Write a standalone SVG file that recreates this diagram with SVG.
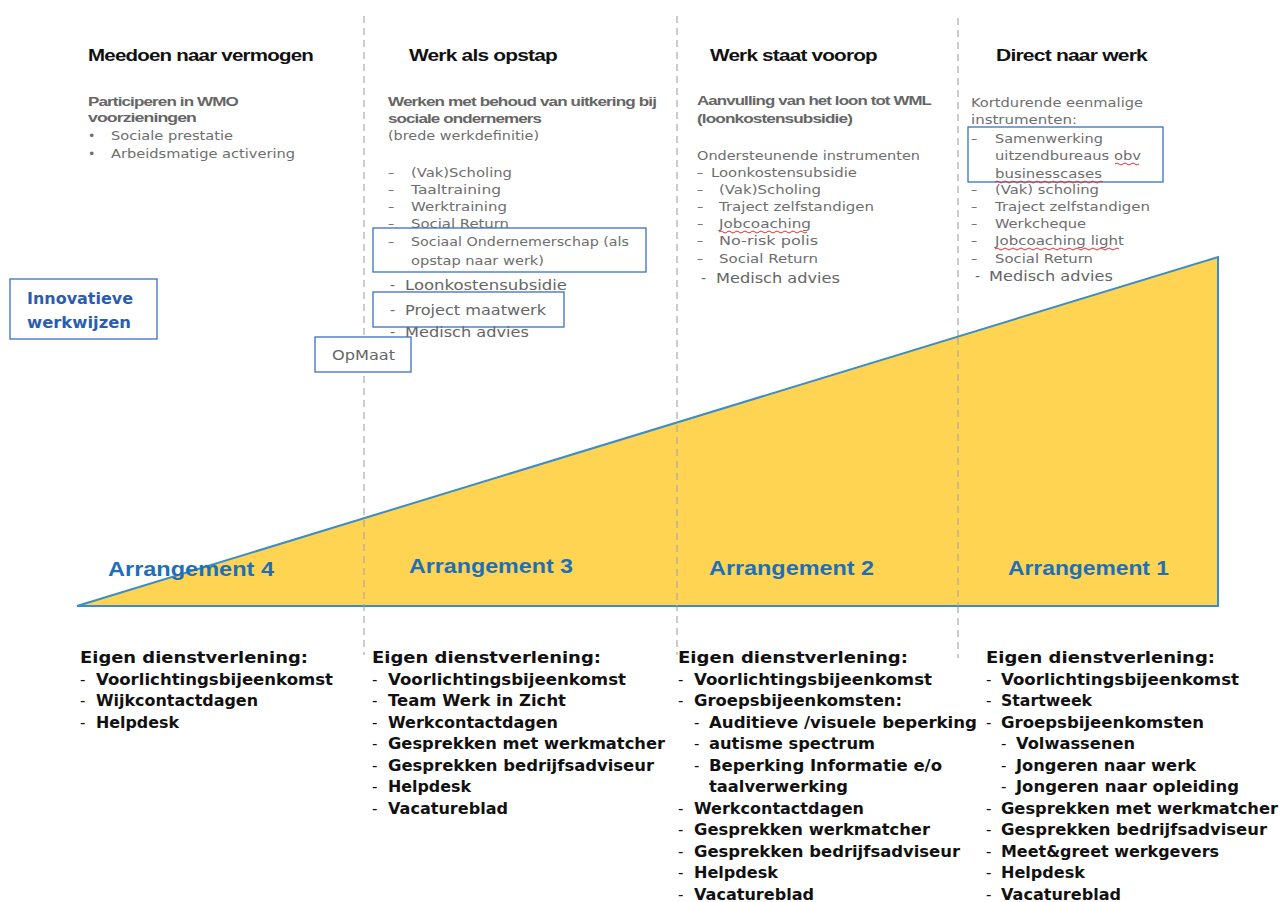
<svg xmlns="http://www.w3.org/2000/svg" width="1281" height="902" viewBox="0 0 1281 902">
<style>
.hd{font-family:"Liberation Sans",Arial,sans-serif;font-weight:bold;font-size:16px;fill:#111;letter-spacing:-0.6px}
.sb{font-family:"Liberation Sans",Arial,sans-serif;font-weight:bold;font-size:13.5px;fill:#666;letter-spacing:-0.7px}
.gt{font-family:"DejaVu Sans",Verdana,sans-serif;font-size:12.5px;fill:#6e6e6e}
.gm{font-family:"DejaVu Sans",Verdana,sans-serif;font-size:14px;fill:#666}
.ar{font-family:"Liberation Sans",Arial,sans-serif;font-weight:bold;font-size:20px;fill:#1f6fb8}
.bt{font-family:"DejaVu Sans",Verdana,sans-serif;font-weight:bold;font-size:15px;fill:#111}
.dh{font-weight:normal}
.bx{fill:none;stroke:#3a6fc4;stroke-width:1.3}
.dl{stroke:#aaa;stroke-width:1.2;stroke-dasharray:7,5;fill:none}
.wv{fill:none;stroke:#e03030;stroke-width:1}
.bl{font-family:"DejaVu Sans",Verdana,sans-serif;font-size:16px;fill:#2a5db0;font-weight:bold}
</style>
<rect width="1281" height="902" fill="#fff"/>
<g id="dividers">
<line class="dl" x1="364" y1="16" x2="364" y2="655"/>
<line class="dl" x1="677" y1="16" x2="677" y2="655"/>
<line class="dl" x1="958" y1="18" x2="958" y2="658"/>
</g>
<g id="triangle">
<polygon points="77,606 1218,257 1218,606" fill="#fed452" stroke="#3a8ccc" stroke-width="2"/>
<line class="dl" x1="364" y1="520" x2="364" y2="606"/>
<line class="dl" x1="677" y1="425" x2="677" y2="606"/>
<line class="dl" x1="958" y1="338" x2="958" y2="606"/>
<text class="ar" x="108" y="576" textLength="166" lengthAdjust="spacingAndGlyphs">Arrangement 4</text>
<text class="ar" x="409" y="573" textLength="164" lengthAdjust="spacingAndGlyphs">Arrangement 3</text>
<text class="ar" x="709" y="575" textLength="165" lengthAdjust="spacingAndGlyphs">Arrangement 2</text>
<text class="ar" x="1008" y="575" textLength="161" lengthAdjust="spacingAndGlyphs">Arrangement 1</text>
</g>
<g id="col1">
<text class="hd" x="88" y="61" textLength="225" lengthAdjust="spacingAndGlyphs">Meedoen naar vermogen</text>
<text class="sb" x="88" y="106" textLength="150" lengthAdjust="spacingAndGlyphs">Participeren in WMO</text>
<text class="sb" x="88" y="122" textLength="108" lengthAdjust="spacingAndGlyphs">voorzieningen</text>
<text class="gt" x="88" y="140">•</text><text class="gt" x="111" y="140" textLength="122" lengthAdjust="spacingAndGlyphs">Sociale prestatie</text>
<text class="gt" x="88" y="158">•</text><text class="gt" x="111" y="158" textLength="184" lengthAdjust="spacingAndGlyphs">Arbeidsmatige activering</text>
</g>
<g id="col2">
<text class="hd" x="409" y="61" textLength="148" lengthAdjust="spacingAndGlyphs">Werk als opstap</text>
<text class="sb" x="388" y="106" textLength="268" lengthAdjust="spacingAndGlyphs">Werken met behoud van uitkering bij</text>
<text class="sb" x="388" y="123" textLength="153" lengthAdjust="spacingAndGlyphs">sociale ondernemers</text>
<text class="gt" x="388" y="140" textLength="151" lengthAdjust="spacingAndGlyphs">(brede werkdefinitie)</text>
<g class="gt">
<text x="388" y="177">–</text><text x="411" y="177" textLength="101" lengthAdjust="spacingAndGlyphs">(Vak)Scholing</text>
<text x="388" y="194">–</text><text x="411" y="194" textLength="90" lengthAdjust="spacingAndGlyphs">Taaltraining</text>
<text x="388" y="211">–</text><text x="411" y="211" textLength="96" lengthAdjust="spacingAndGlyphs">Werktraining</text>
<text x="388" y="228">–</text><text x="411" y="228" textLength="98" lengthAdjust="spacingAndGlyphs">Social Return</text>
<text x="388" y="246">–</text><text x="411" y="246" textLength="218" lengthAdjust="spacingAndGlyphs">Sociaal Ondernemerschap (als</text>
<text x="411" y="265" textLength="133" lengthAdjust="spacingAndGlyphs">opstap naar werk)</text>
</g>
<rect class="bx" x="373" y="228" width="273" height="44"/>
<g class="gm">
<text x="390" y="290">-</text><text x="405" y="290" textLength="162" lengthAdjust="spacingAndGlyphs">Loonkostensubsidie</text>
<text x="390" y="315">-</text><text x="405" y="315" textLength="141" lengthAdjust="spacingAndGlyphs">Project maatwerk</text>
<text x="390" y="337">-</text><text x="405" y="337" textLength="124" lengthAdjust="spacingAndGlyphs">Medisch advies</text>
</g>
<rect class="bx" x="373" y="292" width="191" height="35"/>
</g>
<g id="opmaat">
<rect x="315" y="337" width="96" height="35" fill="#fff" stroke="#3a6fc4" stroke-width="1.3"/>
<text class="gm" x="332" y="360" textLength="63" lengthAdjust="spacingAndGlyphs">OpMaat</text>
</g>
<g id="innovatieve">
<rect class="bx" x="10" y="279" width="147" height="60"/>
<text class="bl" x="27" y="304" textLength="106" lengthAdjust="spacingAndGlyphs">Innovatieve</text>
<text class="bl" x="27" y="328" textLength="104" lengthAdjust="spacingAndGlyphs">werkwijzen</text>
</g>
<g id="col3">
<text class="hd" x="710" y="61" textLength="167" lengthAdjust="spacingAndGlyphs">Werk staat voorop</text>
<text class="sb" x="697" y="105" textLength="234" lengthAdjust="spacingAndGlyphs">Aanvulling van het loon tot WML</text>
<text class="sb" x="697" y="123" textLength="155" lengthAdjust="spacingAndGlyphs">(loonkostensubsidie)</text>
<g class="gt">
<text x="697" y="160" textLength="223" lengthAdjust="spacingAndGlyphs">Ondersteunende instrumenten</text>
<text x="697" y="177">–</text><text x="711" y="177" textLength="146" lengthAdjust="spacingAndGlyphs">Loonkostensubsidie</text>
<text x="697" y="194">–</text><text x="719" y="194" textLength="102" lengthAdjust="spacingAndGlyphs">(Vak)Scholing</text>
<text x="697" y="211">–</text><text x="719" y="211" textLength="155" lengthAdjust="spacingAndGlyphs">Traject zelfstandigen</text>
<text x="697" y="228">–</text><text x="719" y="228" textLength="92" lengthAdjust="spacingAndGlyphs">Jobcoaching</text>
<text x="697" y="245">–</text><text x="719" y="245" textLength="99" lengthAdjust="spacingAndGlyphs">No-risk polis</text>
<text x="697" y="263">–</text><text x="719" y="263" textLength="99" lengthAdjust="spacingAndGlyphs">Social Return</text>
</g>
<text class="gm" x="701" y="283">-</text><text class="gm" x="716" y="283" textLength="124" lengthAdjust="spacingAndGlyphs">Medisch advies</text>
<path class="wv" d="M719,232 q2,-2 4,0 t4,0 t4,0 t4,0 t4,0 t4,0 t4,0 t4,0 t4,0 t4,0 t4,0 t4,0 t4,0 t4,0 t4,0 t4,0 t4,0 t4,0 t4,0 t4,0 t4,0 t4,0"/>
</g>
<g id="col4">
<text class="hd" x="996" y="61" textLength="151" lengthAdjust="spacingAndGlyphs">Direct naar werk</text>
<g class="gt">
<text x="971" y="107" textLength="172" lengthAdjust="spacingAndGlyphs">Kortdurende eenmalige</text>
<text x="971" y="124" textLength="106" lengthAdjust="spacingAndGlyphs">instrumenten:</text>
<text x="971" y="143">–</text><text x="995" y="143" textLength="108" lengthAdjust="spacingAndGlyphs">Samenwerking</text>
<text x="995" y="160" textLength="146" lengthAdjust="spacingAndGlyphs">uitzendbureaus obv</text>
<text x="995" y="178" textLength="107" lengthAdjust="spacingAndGlyphs">businesscases</text>
<text x="971" y="194">–</text><text x="995" y="194" textLength="104" lengthAdjust="spacingAndGlyphs">(Vak) scholing</text>
<text x="971" y="211">–</text><text x="995" y="211" textLength="155" lengthAdjust="spacingAndGlyphs">Traject zelfstandigen</text>
<text x="971" y="228">–</text><text x="995" y="228" textLength="91" lengthAdjust="spacingAndGlyphs">Werkcheque</text>
<text x="971" y="245">–</text><text x="995" y="245" textLength="129" lengthAdjust="spacingAndGlyphs">Jobcoaching light</text>
<text x="971" y="263">–</text><text x="995" y="263" textLength="98" lengthAdjust="spacingAndGlyphs">Social Return</text>
</g>
<text class="gm" x="975" y="281">-</text><text class="gm" x="989" y="281" textLength="124" lengthAdjust="spacingAndGlyphs">Medisch advies</text>
<rect class="bx" x="968" y="127" width="195" height="55"/>
<path class="wv" d="M1115,164 q2,-2 4,0 t4,0 t4,0 t4,0 t4,0 t4,0"/>
<path class="wv" d="M995,182 q2,-2 4,0 t4,0 t4,0 t4,0 t4,0 t4,0 t4,0 t4,0 t4,0 t4,0 t4,0 t4,0 t4,0 t4,0 t4,0 t4,0 t4,0 t4,0 t4,0 t4,0 t4,0 t4,0 t4,0 t4,0 t4,0 t4,0 t4,0"/>
<path class="wv" d="M995,249 q2,-2 4,0 t4,0 t4,0 t4,0 t4,0 t4,0 t4,0 t4,0 t4,0 t4,0 t4,0 t4,0 t4,0 t4,0 t4,0 t4,0 t4,0 t4,0 t4,0 t4,0 t4,0 t4,0 t4,0 t4,0 t4,0 t4,0 t4,0 t4,0 t4,0 t4,0 t4,0"/>
</g>
<g id="bottom1" class="bt">
<text x="80" y="663" textLength="228" lengthAdjust="spacingAndGlyphs" font-size="16">Eigen dienstverlening:</text>
<text class="dh" x="80" y="685">-</text><text x="96" y="685" textLength="237" lengthAdjust="spacingAndGlyphs">Voorlichtingsbijeenkomst</text>
<text class="dh" x="80" y="706">-</text><text x="96" y="706" textLength="162" lengthAdjust="spacingAndGlyphs">Wijkcontactdagen</text>
<text class="dh" x="80" y="728">-</text><text x="96" y="728" textLength="83" lengthAdjust="spacingAndGlyphs">Helpdesk</text>
</g>
<g id="bottom2" class="bt">
<text x="372" y="663" textLength="229" lengthAdjust="spacingAndGlyphs" font-size="16">Eigen dienstverlening:</text>
<text class="dh" x="372" y="685">-</text><text x="388" y="685" textLength="238" lengthAdjust="spacingAndGlyphs">Voorlichtingsbijeenkomst</text>
<text class="dh" x="372" y="706">-</text><text x="388" y="706" textLength="178" lengthAdjust="spacingAndGlyphs">Team Werk in Zicht</text>
<text class="dh" x="372" y="728">-</text><text x="388" y="728" textLength="170" lengthAdjust="spacingAndGlyphs">Werkcontactdagen</text>
<text class="dh" x="372" y="749">-</text><text x="388" y="749" textLength="277" lengthAdjust="spacingAndGlyphs">Gesprekken met werkmatcher</text>
<text class="dh" x="372" y="771">-</text><text x="388" y="771" textLength="266" lengthAdjust="spacingAndGlyphs">Gesprekken bedrijfsadviseur</text>
<text class="dh" x="372" y="792">-</text><text x="388" y="792" textLength="83" lengthAdjust="spacingAndGlyphs">Helpdesk</text>
<text class="dh" x="372" y="814">-</text><text x="388" y="814" textLength="120" lengthAdjust="spacingAndGlyphs">Vacatureblad</text>
</g>
<g id="bottom3" class="bt">
<text x="678" y="663" textLength="230" lengthAdjust="spacingAndGlyphs" font-size="16">Eigen dienstverlening:</text>
<text class="dh" x="678" y="685">-</text><text x="694" y="685" textLength="238" lengthAdjust="spacingAndGlyphs">Voorlichtingsbijeenkomst</text>
<text class="dh" x="678" y="706">-</text><text x="694" y="706" textLength="208" lengthAdjust="spacingAndGlyphs">Groepsbijeenkomsten:</text>
<text class="dh" x="694" y="728">-</text><text x="709" y="728" textLength="268" lengthAdjust="spacingAndGlyphs">Auditieve /visuele beperking</text>
<text class="dh" x="694" y="749">-</text><text x="709" y="749" textLength="166" lengthAdjust="spacingAndGlyphs">autisme spectrum</text>
<text class="dh" x="694" y="771">-</text><text x="709" y="771" textLength="233" lengthAdjust="spacingAndGlyphs">Beperking Informatie e/o</text>
<text x="709" y="792" textLength="139" lengthAdjust="spacingAndGlyphs">taalverwerking</text>
<text class="dh" x="678" y="814">-</text><text x="694" y="814" textLength="170" lengthAdjust="spacingAndGlyphs">Werkcontactdagen</text>
<text class="dh" x="678" y="835">-</text><text x="694" y="835" textLength="236" lengthAdjust="spacingAndGlyphs">Gesprekken werkmatcher</text>
<text class="dh" x="678" y="857">-</text><text x="694" y="857" textLength="266" lengthAdjust="spacingAndGlyphs">Gesprekken bedrijfsadviseur</text>
<text class="dh" x="678" y="878">-</text><text x="694" y="878" textLength="84" lengthAdjust="spacingAndGlyphs">Helpdesk</text>
<text class="dh" x="678" y="900">-</text><text x="694" y="900" textLength="120" lengthAdjust="spacingAndGlyphs">Vacatureblad</text>
</g>
<g id="bottom4" class="bt">
<text x="986" y="663" textLength="229" lengthAdjust="spacingAndGlyphs" font-size="16">Eigen dienstverlening:</text>
<text class="dh" x="986" y="685">-</text><text x="1001" y="685" textLength="238" lengthAdjust="spacingAndGlyphs">Voorlichtingsbijeenkomst</text>
<text class="dh" x="986" y="706">-</text><text x="1001" y="706" textLength="91" lengthAdjust="spacingAndGlyphs">Startweek</text>
<text class="dh" x="986" y="728">-</text><text x="1001" y="728" textLength="203" lengthAdjust="spacingAndGlyphs">Groepsbijeenkomsten</text>
<text class="dh" x="1001" y="749">-</text><text x="1016" y="749" textLength="119" lengthAdjust="spacingAndGlyphs">Volwassenen</text>
<text class="dh" x="1001" y="771">-</text><text x="1016" y="771" textLength="180" lengthAdjust="spacingAndGlyphs">Jongeren naar werk</text>
<text class="dh" x="1001" y="792">-</text><text x="1016" y="792" textLength="223" lengthAdjust="spacingAndGlyphs">Jongeren naar opleiding</text>
<text class="dh" x="986" y="814">-</text><text x="1001" y="814" textLength="277" lengthAdjust="spacingAndGlyphs">Gesprekken met werkmatcher</text>
<text class="dh" x="986" y="835">-</text><text x="1001" y="835" textLength="266" lengthAdjust="spacingAndGlyphs">Gesprekken bedrijfsadviseur</text>
<text class="dh" x="986" y="857">-</text><text x="1001" y="857" textLength="218" lengthAdjust="spacingAndGlyphs">Meet&amp;greet werkgevers</text>
<text class="dh" x="986" y="878">-</text><text x="1001" y="878" textLength="84" lengthAdjust="spacingAndGlyphs">Helpdesk</text>
<text class="dh" x="986" y="900">-</text><text x="1001" y="900" textLength="120" lengthAdjust="spacingAndGlyphs">Vacatureblad</text>
</g>
</svg>
